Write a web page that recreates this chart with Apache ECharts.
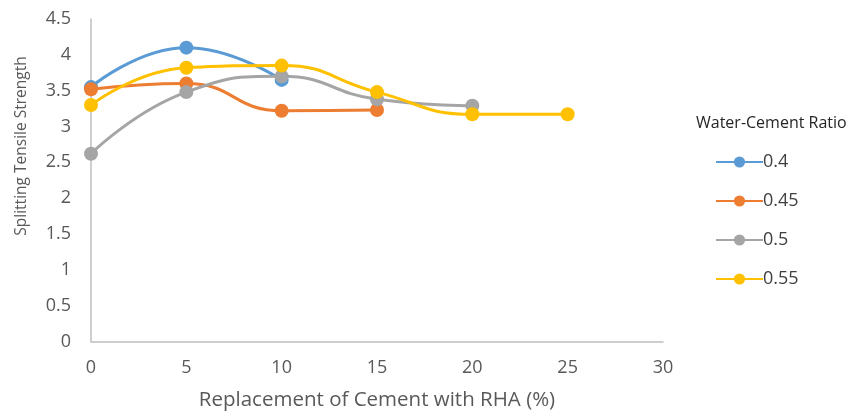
<!DOCTYPE html>
<html><head><meta charset="utf-8">
<script src="https://cdn.jsdelivr.net/npm/echarts@6/dist/echarts.min.js"></script>
<style>html,body{margin:0;padding:0;background:#fff}#c{width:860px;height:417px}</style>
</head><body><div id="c"></div>
<script>
const seriesNames = ['0.4', '0.45', '0.5', '0.55'];
const xValues = [0, 5, 10, 15, 20, 25];
const s04 = [3.55, 4.1, 3.65];
const s045 = [3.52, 3.6, 3.22, 3.23];
const s05 = [2.62, 3.48, 3.7, 3.38, 3.29];
const s055 = [3.3, 3.82, 3.85, 3.48, 3.17, 3.17];
const colors = ['#5B9BD5', '#ED7D31', '#A5A5A5', '#FFC000'];
const allData = [s04, s045, s05, s055];
const font = 'Open Sans';
const chart = echarts.init(document.getElementById('c'));
chart.setOption({
  animation: false,
  textStyle: { fontFamily: font },
  title: { text: 'Water-Cement Ratio', left: 691, top: 110,
    textStyle: { fontFamily: font, fontSize: 16, fontWeight: 'normal', color: '#262626' } },
  legend: { orient: 'vertical', left: 710, top: 148, itemWidth: 47, itemHeight: 14, itemGap: 21,
    data: seriesNames,
    textStyle: { fontFamily: font, fontSize: 18, color: '#404040', padding: [0,0,0,-5] } },
  graphic: [{ type: 'text', x: 22, y: 146, rotation: Math.PI / 2,
    style: { text: 'Splitting Tensile Strength', fontFamily: font, fontSize: 15.5, fill: '#595959',
      align: 'center', verticalAlign: 'middle' } }],
  grid: { left: 91, right: 197, top: 19, bottom: 75.5 },
  xAxis: { type: 'value', min: 0, max: 30, interval: 5,
    name: 'Replacement of Cement with RHA (%)', nameLocation: 'middle', nameGap: 48,
    nameTextStyle: { fontSize: 20.5, color: '#595959', fontFamily: font },
    axisLine: { lineStyle: { color: '#BFBFBF', width: 1.5 } }, axisTick: { show: false },
    splitLine: { show: false },
    axisLabel: { fontSize: 18, color: '#595959', margin: 17, fontFamily: font } },
  yAxis: { type: 'value', min: 0, max: 4.5, interval: 0.5,
    axisLine: { show: true, lineStyle: { color: '#BFBFBF', width: 1.5 } }, axisTick: { show: false },
    splitLine: { show: false },
    axisLabel: { fontSize: 18, color: '#595959', margin: 20, fontFamily: font } },
  series: seriesNames.map((n, i) => ({
    name: n, type: 'line', smooth: 0.5, symbol: 'circle', symbolSize: 14,
    data: allData[i].map((v, j) => [xValues[j], v]),
    lineStyle: { width: 3, color: colors[i] },
    itemStyle: { color: colors[i] }
  }))
});
</script></body></html>
